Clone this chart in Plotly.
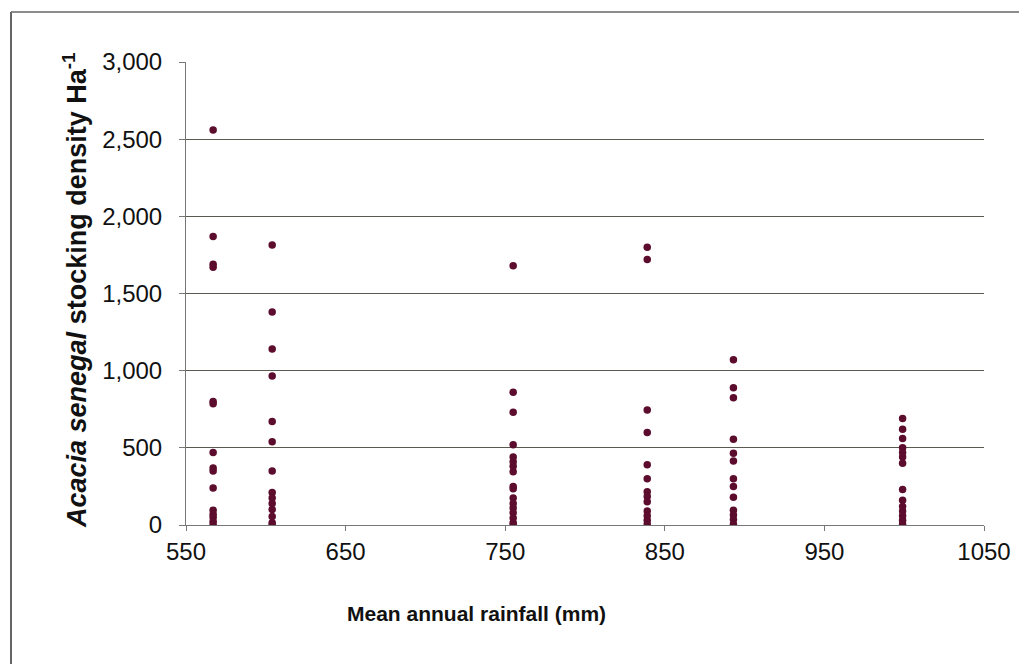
import plotly.graph_objects as go

# Mean annual rainfall (mm) for each site column
rain_col1 = 567
rain_col2 = 604
rain_col3 = 755
rain_col4 = 839
rain_col5 = 893
rain_col6 = 999

# Acacia senegal stocking density (trees/ha) read per column
dens_col1 = [2560, 1870, 1690, 1670, 800, 785, 470, 370, 350, 240, 95, 70, 50, 25, 5]
dens_col2 = [1815, 1380, 1140, 965, 670, 540, 350, 210, 175, 140, 100, 55, 15, 0]
dens_col3 = [1680, 860, 730, 520, 440, 410, 380, 345, 250, 235, 175, 140, 110, 80, 45, 15, 0]
dens_col4 = [1800, 1720, 745, 600, 390, 300, 215, 185, 150, 90, 60, 30, 5]
dens_col5 = [1070, 890, 825, 555, 465, 415, 300, 250, 180, 95, 65, 35, 5]
dens_col6 = [690, 620, 560, 500, 470, 440, 400, 230, 160, 120, 90, 60, 30, 5]

y_ticks = [0, 500, 1000, 1500, 2000, 2500, 3000]
x_ticks = [550, 650, 750, 850, 950, 1050]

rain = []
dens = []
for r, d in [(rain_col1, dens_col1), (rain_col2, dens_col2), (rain_col3, dens_col3),
             (rain_col4, dens_col4), (rain_col5, dens_col5), (rain_col6, dens_col6)]:
    rain += [r] * len(d)
    dens += d

fig = go.Figure()
fig.add_trace(go.Scatter(
    x=rain, y=dens, mode="markers",
    marker=dict(size=7.5, color="#5c0c2c", line=dict(width=0)),
    showlegend=False,
))

# page body offset of the html (~8px) is compensated in margins
OFF = 8
W, H = 1027, 664
L, T = 186 - OFF, 62 - OFF
R = W - (984 - OFF)
B = H - (525 - OFF)
pw = W - L - R
ph = H - T - B

def px_x(sx):
    return (sx - OFF - L) / pw

def px_y(sy):
    return (H - B - (sy - OFF)) / ph

font_main = "Liberation Sans, Arial, sans-serif"

fig.update_layout(
    width=W, height=H,
    margin=dict(l=L, r=R, t=T, b=B),
    paper_bgcolor="white",
    plot_bgcolor="white",
    font=dict(family=font_main, size=24, color="#111111"),
    xaxis=dict(
        range=[550, 1050], tickvals=x_ticks, ticktext=[str(v) for v in x_ticks],
        showgrid=False, zeroline=False,
        showline=True, linecolor="#777777", linewidth=1,
        ticks="outside", ticklen=5, tickcolor="#777777",
        tickfont=dict(size=24, family=font_main),
    ),
    yaxis=dict(
        range=[0, 3000], tickvals=y_ticks,
        ticktext=[f"{v:,}" for v in y_ticks],
        showgrid=True, gridcolor="#5a5a50", gridwidth=1,
        zeroline=False,
        showline=True, linecolor="#777777", linewidth=1,
        ticks="outside", ticklen=6, tickcolor="#777777",
        ticklabelstandoff=12,
        tickfont=dict(size=24, family=font_main),
    ),
)

# Axis titles as annotations
fig.add_annotation(
    text="<b>Mean annual rainfall (mm)</b>",
    xref="paper", yref="paper",
    x=px_x(476), y=px_y(613),
    showarrow=False, xanchor="center", yanchor="middle",
    font=dict(size=21, family=font_main, color="#111111"),
)
fig.add_annotation(
    text="<b><i>Acacia senegal</i> stocking density Ha<sup>-1</sup></b>",
    xref="paper", yref="paper",
    x=px_x(75), y=px_y(290),
    showarrow=False, textangle=-90, xanchor="center", yanchor="middle",
    font=dict(size=27, family=font_main, color="#111111"),
)

# Outer frame lines (left and top)
fig.add_shape(type="line", xref="paper", yref="paper",
              x0=px_x(11), x1=px_x(11),
              y0=px_y(12), y1=px_y(720),
              line=dict(color="#333333", width=1.5))
fig.add_shape(type="line", xref="paper", yref="paper",
              x0=px_x(11), x1=px_x(1060),
              y0=px_y(12), y1=px_y(12),
              line=dict(color="#666666", width=1.5))

fig.write_html("out.html")
